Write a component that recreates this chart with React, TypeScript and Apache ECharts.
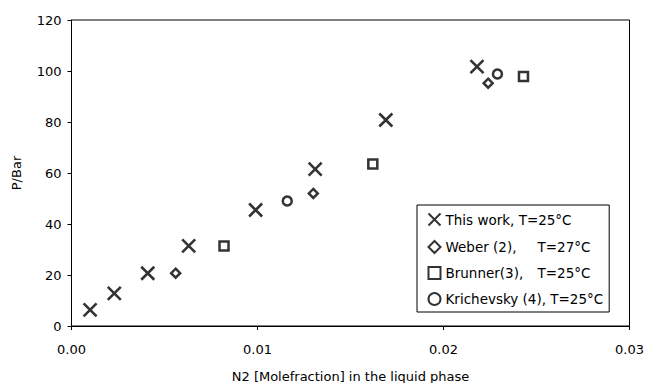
import React, { useEffect, useRef } from "react";
import * as echarts from "echarts";

const xTicks = [0, 0.01, 0.02, 0.03];
const yTicks = [0, 20, 40, 60, 80, 100, 120];

const seriesNames = [
  "This work, T=25°C",
  "Weber (2),",
  "Brunner(3),",
  "Krichevsky (4), T=25°C",
];
const seriesTemps = ["", "T=27°C", "T=25°C", ""];

const thisWorkX = [0.001, 0.0023, 0.0041, 0.0063, 0.0099, 0.0131, 0.0169, 0.0218];
const thisWorkY = [6.3, 12.8, 20.7, 31.4, 45.5, 61.5, 80.8, 101.7];
const weberX = [0.0056, 0.013, 0.0224];
const weberY = [20.7, 52.0, 95.2];
const brunnerX = [0.0082, 0.0162, 0.0243];
const brunnerY = [31.4, 63.5, 97.8];
const krichX = [0.0116, 0.0229];
const krichY = [49.0, 98.8];

const FONT = "DejaVu Sans";

function pairs(xs: number[], ys: number[]) {
  return xs.map((x, i) => [x, ys[i]]);
}

export default function App() {
  const ref = useRef<HTMLDivElement>(null);
  useEffect(() => {
    document.body.style.margin = "0";
    const chart = echarts.init(ref.current!, null, { renderer: "svg" });
    const xPath = "path://M0,0L12,12M12,0L0,12";
    const hollow = { color: "#fff", borderColor: "#000", borderWidth: 2.5 };
    chart.setOption({
      animation: false,
      backgroundColor: "#fff",
      grid: {
        left: 71.5,
        right: 15.5,
        top: 20,
        bottom: 57,
        show: true,
        borderColor: "#000",
        borderWidth: 1,
        containLabel: false,
        outerBoundsMode: "none",
      },
      xAxis: {
        type: "value",
        min: xTicks[0],
        max: xTicks[xTicks.length - 1],
        interval: 0.01,
        name: "N2 [Molefraction] in the liquid phase",
        nameLocation: "middle",
        nameGap: 44,
        nameTextStyle: { fontFamily: FONT, fontSize: 13, color: "#000" },
        axisLine: { lineStyle: { color: "#000", width: 1 } },
        axisTick: { show: true, length: 4, lineStyle: { color: "#000" } },
        axisLabel: {
          margin: 17,
          fontFamily: FONT,
          fontSize: 13,
          color: "#000",
          formatter: (v: number) => v.toFixed(2),
        },
        splitLine: { show: false },
      },
      yAxis: {
        type: "value",
        min: yTicks[0],
        max: yTicks[yTicks.length - 1],
        interval: 20,
        name: "P/Bar",
        nameLocation: "middle",
        nameGap: 49,
        nameTextStyle: { fontFamily: FONT, fontSize: 13, color: "#000" },
        axisLine: { show: true, lineStyle: { color: "#000", width: 1 } },
        axisTick: { show: true, length: 4, lineStyle: { color: "#000" } },
        axisLabel: { margin: 10, fontFamily: FONT, fontSize: 13, color: "#000" },
        splitLine: { show: false },
      },
      legend: {
        orient: "vertical",
        left: 417,
        top: 205,
        padding: [6, 6, 6, 9],
        itemGap: 12,
        itemWidth: 12,
        itemHeight: 12,
        borderColor: "#000",
        borderWidth: 1,
        backgroundColor: "#fff",
        textStyle: {
          fontFamily: FONT,
          fontSize: 13.5,
          color: "#000",
          rich: {
            a: { fontFamily: FONT, fontSize: 13.5, color: "#000", width: 92 },
            b: { fontFamily: FONT, fontSize: 13.5, color: "#000" },
          },
        },
        formatter: (name: string) => {
          const i = seriesNames.indexOf(name);
          if (seriesTemps[i]) return `{a|${name}}{b|${seriesTemps[i]}}`;
          return name;
        },
        data: seriesNames,
      },
      series: [
        {
          name: seriesNames[0],
          type: "scatter",
          symbol: xPath,
          symbolSize: 13,
          itemStyle: { color: "none", borderColor: "#000", borderWidth: 2.6 },
          data: pairs(thisWorkX, thisWorkY),
        },
        {
          name: seriesNames[1],
          type: "scatter",
          symbol: "diamond",
          symbolSize: 9,
          itemStyle: hollow,
          data: pairs(weberX, weberY),
        },
        {
          name: seriesNames[2],
          type: "scatter",
          symbol: "rect",
          symbolSize: 9,
          itemStyle: hollow,
          data: pairs(brunnerX, brunnerY),
        },
        {
          name: seriesNames[3],
          type: "scatter",
          symbol: "circle",
          symbolSize: 9,
          itemStyle: hollow,
          data: pairs(krichX, krichY),
        },
      ],
    });
    return () => chart.dispose();
  }, []);
  return <div ref={ref} style={{ width: 645, height: 383 }} />;
}
